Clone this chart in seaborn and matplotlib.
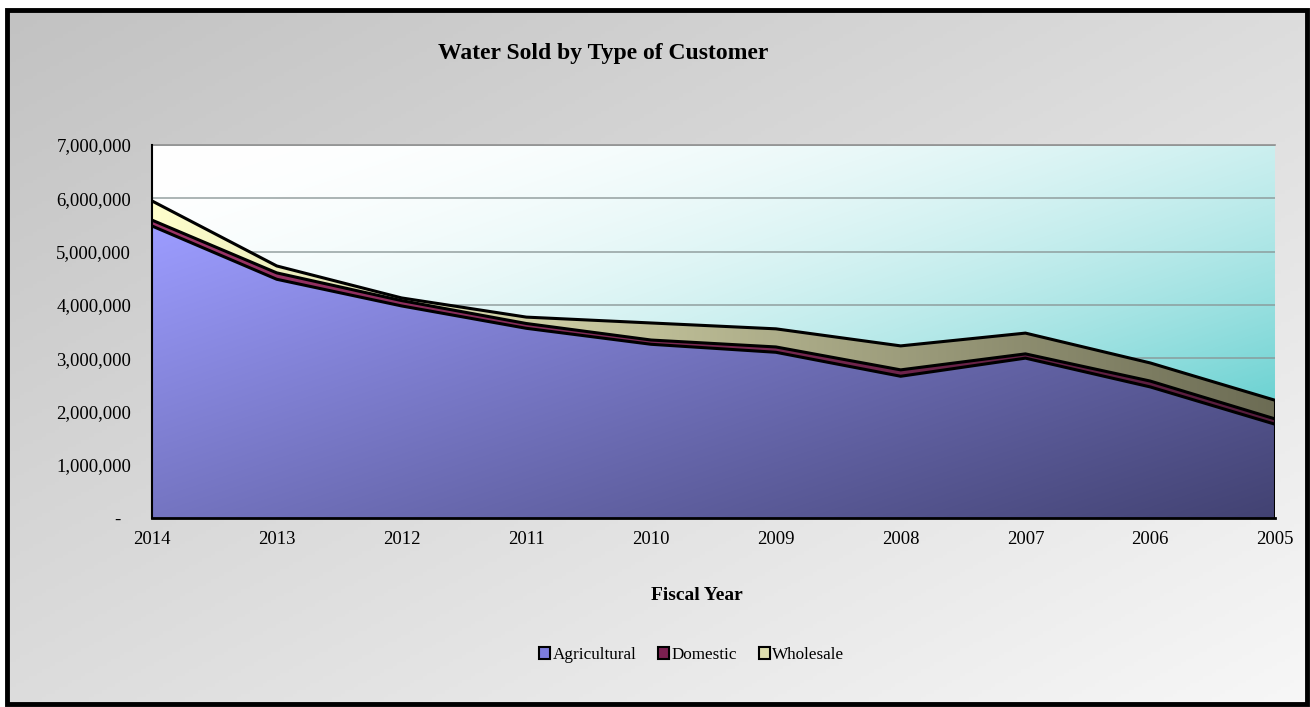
import numpy as np
import pandas as pd
import matplotlib
matplotlib.use("Agg")
import matplotlib.pyplot as plt
import seaborn as sns
from matplotlib.patches import Rectangle, Patch
from matplotlib.colors import to_rgb

# ---------------- data ----------------
years = ["2014", "2013", "2012", "2011", "2010", "2009", "2008", "2007", "2006", "2005"]
agricultural = [5480000, 4480000, 3980000, 3560000, 3260000, 3110000, 2660000, 3000000, 2460000, 1760000]
domestic = [110000, 120000, 100000, 90000, 80000, 100000, 120000, 80000, 110000, 100000]
wholesale = [360000, 130000, 50000, 120000, 320000, 340000, 450000, 390000, 340000, 350000]
series_names = ["Agricultural", "Domestic", "Wholesale"]
y_ticks = [0, 1000000, 2000000, 3000000, 4000000, 5000000, 6000000, 7000000]

sns.set_theme(style="white")
plt.rcParams["font.family"] = ["Liberation Serif", "DejaVu Serif"]
plt.rcParams["text.color"] = "black"
plt.rcParams["xtick.labelcolor"] = "black"
plt.rcParams["ytick.labelcolor"] = "black"

W, H = 1310, 707
fig = plt.figure(figsize=(W / 100, H / 100), dpi=100)
fig.patch.set_facecolor("white")


def lin_grad(c0, c1, t):
    c0 = np.array(to_rgb(c0)); c1 = np.array(to_rgb(c1))
    t = np.clip(t, 0, 1)[..., None]
    return c0 + (c1 - c0) * t


# ---------------- figure background ----------------
bg = fig.add_axes([0, 0, 1, 1], zorder=-10)
bg.set_xlim(0, 1); bg.set_ylim(0, 1); bg.axis("off")
gy, gx = np.mgrid[0:1:200j, 0:1:300j]
bg_img = lin_grad("#c2c2c2", "#f7f7f7", (gx + gy) / 2)
x0, x1 = 7 / W, 1307 / W
y0, y1 = 3 / H, 1 - 10 / H
bg.imshow(bg_img, extent=(x0, x1, y0, y1), aspect="auto", origin="upper")
bg.add_patch(Rectangle((x0, y0), x1 - x0, y1 - y0, fill=False, edgecolor="black", lw=3.5))
bg.set_xlim(0, 1); bg.set_ylim(0, 1)

# ---------------- plot area ----------------
ax = fig.add_axes([152 / W, 189 / H, 1123 / W, 373 / H])
x = np.arange(len(years))
agr = np.array(agricultural, float)
dom = agr + np.array(domestic, float)
tot = dom + np.array(wholesale, float)
ymax = y_ticks[-1]
ext = (x[0], x[-1], 0, ymax)

py, px = np.mgrid[0:1:300j, 0:1:400j]
tdiag = (px + py) / 2
plot_bg = lin_grad("#ffffff", "#30c0c0", tdiag ** 2)
ax.imshow(plot_bg, extent=ext, aspect="auto", origin="upper", zorder=0)

bands = [
    (np.zeros_like(agr), agr, lin_grad("#9c9cff", "#424272", (tdiag - 0.11) / 0.89)),
    (agr, dom, lin_grad("#9d3468", "#561c3c", px)),
    (dom, tot, lin_grad("#ffffcc", "#6c6c54", px)),
]
for lower, upper, img in bands:
    poly = ax.fill_between(x, lower, upper, facecolor="none", edgecolor="none")
    im = ax.imshow(img, extent=ext, aspect="auto", origin="upper", zorder=2)
    im.set_clip_path(poly.get_paths()[0], transform=ax.transData)

lines = pd.DataFrame({
    "pos": np.concatenate([x, x, x]),
    "value": np.concatenate([agr, dom, tot]),
    "band": np.repeat(series_names, len(x)),
})
sns.lineplot(data=lines, x="pos", y="value", hue="band", palette=["black"] * 3,
             legend=False, lw=2.2, ax=ax, zorder=3, estimator=None, sort=False)
ax.vlines(x[-1], 0, tot[-1], color="black", lw=2.2, zorder=3)

ax.set_xlim(x[0], x[-1])
ax.set_ylim(0, ymax)
ax.set_xticks(x, years)
ax.set_yticks(y_ticks, ["-  " if v == 0 else f"{v:,.0f}" for v in y_ticks])
ax.set_xlabel(""); ax.set_ylabel("")
ax.set_axisbelow(True)
ax.yaxis.grid(True, color="#8a9696", lw=1.1, alpha=0.9)
ax.xaxis.grid(False)
ax.tick_params(axis="both", direction="out", length=5, width=1, color="#909090",
               labelsize=13.5, labelcolor="black")
ax.tick_params(axis="y", pad=10)
ax.tick_params(axis="x", pad=4)
ax.spines["right"].set_visible(False)
ax.spines["top"].set_color("#909090"); ax.spines["top"].set_linewidth(1.2)
ax.spines["left"].set_color("black"); ax.spines["left"].set_linewidth(1.5)
ax.spines["bottom"].set_color("black"); ax.spines["bottom"].set_linewidth(2)
ax.spines["left"].set_zorder(4); ax.spines["bottom"].set_zorder(4)

# ---------------- texts ----------------
fig.text(603 / W, 1 - 53 / H, "Water Sold by Type of Customer", ha="center", va="center",
         fontsize=17, fontweight="bold", color="black")
fig.text(697 / W, 1 - 596 / H, "Fiscal Year", ha="center", va="center",
         fontsize=14, fontweight="bold", color="black")

handles = [Patch(facecolor=c, edgecolor="black", lw=1.5) for c in ["#7c7cdc", "#7a2050", "#dcdcac"]]
fig.legend(handles, series_names, loc="center", bbox_to_anchor=(692 / W, 1 - 655 / H),
           ncol=3, frameon=False, fontsize=12.3, handlelength=0.65, handleheight=0.65,
           handletextpad=0.15, columnspacing=1.25, labelcolor="black")

fig.savefig("out.png", dpi=100)
